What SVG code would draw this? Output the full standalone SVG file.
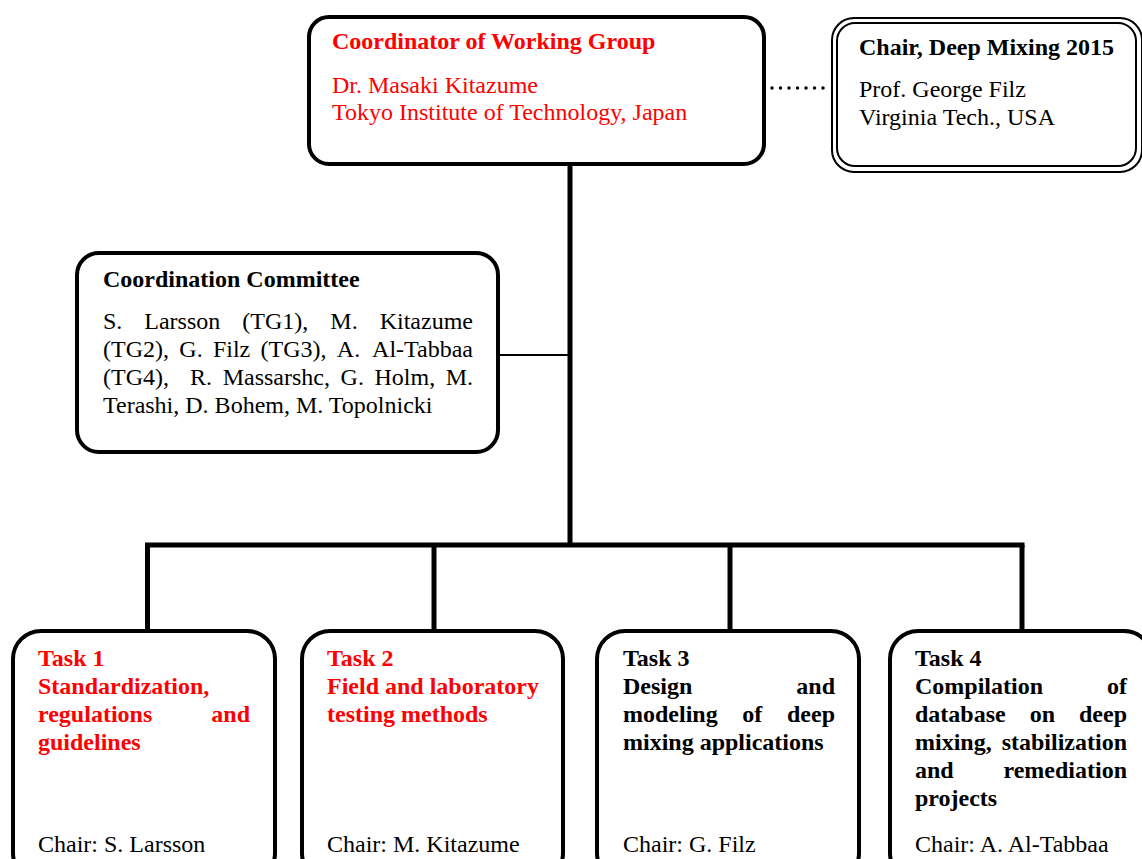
<svg xmlns="http://www.w3.org/2000/svg" width="1142" height="859" viewBox="0 0 1142 859">
  <style>
    text { font-family: "Liberation Serif", "Times New Roman", serif; font-size: 24px; fill: #000; }
    .b { font-weight: bold; }
    .red { fill: #ff0000; }
    .box { fill: #fff; stroke: #000; stroke-width: 4; }
    .thin { fill: #fff; stroke: #000; stroke-width: 2; }
    .bar { stroke: #000; stroke-width: 5; fill: none; }
  </style>
  <rect width="1142" height="859" fill="#fff"/>

  <!-- connectors -->
  <g id="connectors">
    <line class="bar" x1="570" y1="165" x2="570" y2="547"/>
    <line class="bar" x1="145" y1="545" x2="1024.5" y2="545"/>
    <line class="bar" x1="147.5" y1="545" x2="147.5" y2="632"/>
    <line class="bar" x1="434" y1="545" x2="434" y2="632"/>
    <line class="bar" x1="730" y1="545" x2="730" y2="632"/>
    <line class="bar" x1="1022" y1="545" x2="1022" y2="632"/>
    <line x1="498" y1="355" x2="570" y2="355" stroke="#000" stroke-width="2"/>
    <line x1="772" y1="88" x2="824" y2="88" stroke="#000" stroke-width="3.5" stroke-linecap="round" stroke-dasharray="0 8.5"/>
  </g>

  <!-- working group coordinator -->
  <g id="coordinator">
    <rect class="box" x="309" y="17" width="455" height="147" rx="20"/>
    <text class="b red" x="332" y="49">Coordinator of Working Group</text>
    <text class="red" x="332" y="93">Dr. Masaki Kitazume</text>
    <text class="red" x="332" y="120">Tokyo Institute of Technology, Japan</text>
  </g>

  <!-- conference chair -->
  <g id="chair">
    <rect class="thin" x="832" y="18" width="310" height="154" rx="22"/>
    <rect class="thin" x="837" y="23" width="299" height="143" rx="18"/>
    <text class="b" x="859" y="55">Chair, Deep Mixing 2015</text>
    <text x="859" y="97">Prof. George Filz</text>
    <text x="859" y="125">Virginia Tech., USA</text>
  </g>

  <!-- coordination committee -->
  <g id="committee">
    <rect class="box" x="77" y="253" width="421" height="199" rx="22" stroke-width="3.5"/>
    <text class="b" x="103" y="287">Coordination Committee</text>
    <text y="329"><tspan x="103">S.</tspan><tspan x="144.3">Larsson</tspan><tspan x="242.3">(TG1),</tspan><tspan x="330.3">M.</tspan><tspan x="473" text-anchor="end">Kitazume</tspan></text>
    <text y="357"><tspan x="103">(TG2),</tspan><tspan x="179.3">G.</tspan><tspan x="212.9">Filz</tspan><tspan x="260.5">(TG3),</tspan><tspan x="336.8">A.</tspan><tspan x="473" text-anchor="end">Al-Tabbaa</tspan></text>
    <text y="385"><tspan x="103">(TG4),</tspan><tspan x="190.1">R.</tspan><tspan x="222.7">Massarshc,</tspan><tspan x="340.6">G.</tspan><tspan x="374.5">Holm,</tspan><tspan x="473" text-anchor="end">M.</tspan></text>
    <text x="103" y="413">Terashi, D. Bohem, M. Topolnicki</text>
  </g>

  <!-- task groups -->
  <g id="task1">
    <rect class="box" x="13" y="631" width="262" height="250" rx="28"/>
    <text class="b red" x="38" y="666">Task 1</text>
    <text class="b red" x="38" y="694">Standardization,</text>
    <text class="b red" y="722"><tspan x="38">regulations</tspan><tspan x="250" text-anchor="end">and</tspan></text>
    <text class="b red" x="38" y="750">guidelines</text>
    <text x="38" y="852">Chair: S. Larsson</text>
  </g>

  <g id="task2">
    <rect class="box" x="302" y="631" width="261" height="250" rx="28"/>
    <text class="b red" x="327" y="666">Task 2</text>
    <text class="b red" x="327" y="694">Field and laboratory</text>
    <text class="b red" x="327" y="722">testing methods</text>
    <text x="327" y="852">Chair: M. Kitazume</text>
  </g>

  <g id="task3">
    <rect class="box" x="597" y="631" width="262" height="250" rx="28"/>
    <text class="b" x="623" y="666">Task 3</text>
    <text class="b" y="694"><tspan x="623">Design</tspan><tspan x="835" text-anchor="end">and</tspan></text>
    <text class="b" y="722"><tspan x="623">modeling</tspan><tspan x="742.3">of</tspan><tspan x="835" text-anchor="end">deep</tspan></text>
    <text class="b" x="623" y="750">mixing applications</text>
    <text x="623" y="852">Chair: G. Filz</text>
  </g>

  <g id="task4">
    <rect class="box" x="890" y="631" width="262" height="250" rx="28"/>
    <text class="b" x="915" y="666">Task 4</text>
    <text class="b" y="694"><tspan x="915">Compilation</tspan><tspan x="1127" text-anchor="end">of</tspan></text>
    <text class="b" y="722"><tspan x="915">database</tspan><tspan x="1029.7">on</tspan><tspan x="1127" text-anchor="end">deep</tspan></text>
    <text class="b" y="750"><tspan x="915">mixing,</tspan><tspan x="1127" text-anchor="end">stabilization</tspan></text>
    <text class="b" y="778"><tspan x="915">and</tspan><tspan x="1127" text-anchor="end">remediation</tspan></text>
    <text class="b" x="915" y="806">projects</text>
    <text x="915" y="852">Chair: A. Al-Tabbaa</text>
  </g>
</svg>
